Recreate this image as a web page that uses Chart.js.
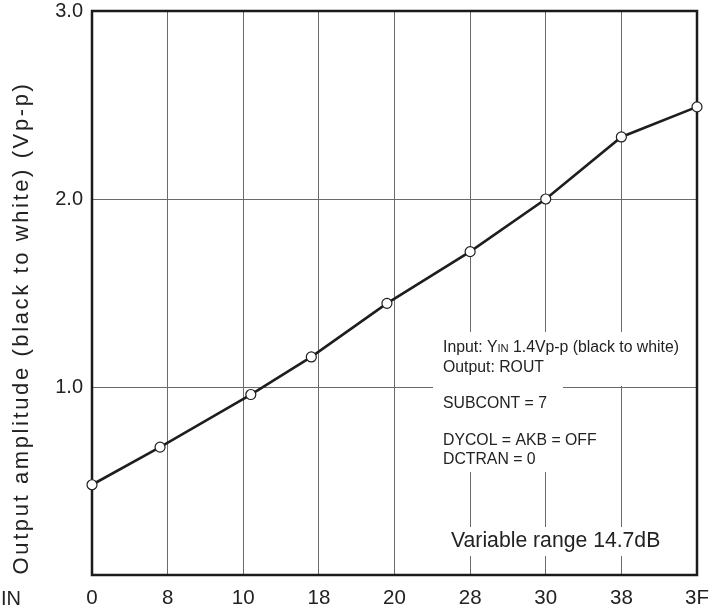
<!DOCTYPE html>
<html>
<head>
<meta charset="utf-8">
<script src="https://cdn.jsdelivr.net/npm/chart.js@4/dist/chart.umd.min.js"></script>
<style>
  html, body { margin: 0; padding: 0; background: #fff; }
  #wrap { width: 715px; height: 612px; position: relative; }
</style>
</head>
<body>
<div id="wrap"><canvas id="c" width="715" height="612"></canvas></div>
<script>
// Data
const xCodes = [0, 7.2, 16.8, 23.2, 31.2, 40, 48, 56, 64];
const amplitude = [0.48, 0.68, 0.96, 1.16, 1.445, 1.72, 2.0, 2.33, 2.49];
const xTickLabels = ['0', '8', '10', '18', '20', '28', '30', '38', '3F'];
const yTickValues = [1.0, 2.0, 3.0];
const yTitle = 'Output amplitude (black to white) (Vp-p)';
const xTitle = 'IN';
const noteLines = ['Output: ROUT', 'SUBCONT = 7', 'DYCOL = AKB = OFF', 'DCTRAN = 0'];
const rangeNote = 'Variable range 14.7dB';

const FONT = "'Liberation Sans', Arial, Helvetica, sans-serif";

const decor = {
  id: 'decor',
  beforeDatasetsDraw(chart) {
    const ctx = chart.ctx;
    const a = chart.chartArea;
    ctx.save();
    // white backgrounds behind notes (cover the grid lines)
    ctx.fillStyle = '#fff';
    ctx.fillRect(433, 332, 257, 54);
    ctx.fillRect(433, 386, 130, 86);
    ctx.fillRect(433, 421, 180, 51);
    ctx.fillRect(443, 527, 246, 29);
    // frame
    ctx.strokeStyle = '#1a1a1a';
    ctx.lineWidth = 2.5;
    ctx.strokeRect(a.left, a.top, a.right - a.left, a.bottom - a.top);
    ctx.restore();
  },
  afterDraw(chart) {
    const ctx = chart.ctx;
    ctx.save();
    ctx.fillStyle = '#222';
    ctx.textBaseline = 'alphabetic';
    ctx.textAlign = 'left';
    // notes
    ctx.font = '15.8px ' + FONT;
    let x = 443;
    const y0 = 352;
    let s = 'Input: Y';
    ctx.fillText(s, x, y0);
    x += ctx.measureText(s).width;
    ctx.font = '11.2px ' + FONT;
    s = 'IN';
    ctx.fillText(s, x, y0);
    x += ctx.measureText(s).width;
    ctx.font = '15.8px ' + FONT;
    ctx.fillText(' 1.4Vp-p (black to white)', x, y0);
    const ys = [371.5, 407.5, 445, 464];
    noteLines.forEach((t, i) => ctx.fillText(t, 443, ys[i]));
    ctx.font = '21.2px ' + FONT;
    ctx.fillText(rangeNote, 451, 547);
    // x axis name
    ctx.font = '20px ' + FONT;
    ctx.fillText(xTitle, 1, 605);
    // y axis title
    ctx.translate(28, 328);
    ctx.rotate(-Math.PI / 2);
    ctx.textAlign = 'center';
    ctx.font = '22px ' + FONT;
    if ('letterSpacing' in ctx) ctx.letterSpacing = '2.6px';
    ctx.fillText(yTitle, 0, 0);
    ctx.restore();
  }
};

new Chart(document.getElementById('c'), {
  type: 'line',
  data: {
    datasets: [{
      data: xCodes.map((v, i) => ({ x: v, y: amplitude[i] })),
      borderColor: '#1e1e1e',
      borderWidth: 2.6,
      pointRadius: 5,
      pointBackgroundColor: '#fff',
      pointBorderColor: '#1e1e1e',
      pointBorderWidth: 1.2,
      tension: 0,
      clip: false
    }]
  },
  options: {
    responsive: false,
    animation: false,
    devicePixelRatio: 1,
    layout: { padding: { top: 11, right: 18, left: 0, bottom: 0 } },
    plugins: { legend: { display: false }, tooltip: { enabled: false } },
    scales: {
      x: {
        type: 'linear',
        min: 0, max: 64,
        afterFit(scale) {
          scale.height = 37;
          scale.paddingLeft = 0; scale.paddingRight = 0;
        },
        afterBuildTicks(scale) {
          scale.ticks = xTickLabels.map((_, i) => ({ value: i * 8 }));
        },
        ticks: {
          autoSkip: false, maxRotation: 0, padding: 11,
          color: '#222',
          font: { family: FONT, size: 20.5 },
          callback: (v) => xTickLabels[Math.round(v / 8)]
        },
        grid: { color: '#6a6a6a', lineWidth: 1, drawTicks: false },
        border: { display: false }
      },
      y: {
        type: 'linear',
        min: 0, max: 3,
        afterFit(scale) {
          scale.width = 92;
          scale.paddingTop = 0; scale.paddingBottom = 0;
        },
        afterBuildTicks(scale) {
          scale.ticks = [0].concat(yTickValues).map(v => ({ value: v }));
        },
        ticks: {
          padding: 9,
          color: '#222',
          font: { family: FONT, size: 20 },
          callback: (v) => (v === 0 ? '' : v.toFixed(1))
        },
        grid: { color: '#6a6a6a', lineWidth: 1, drawTicks: false },
        border: { display: false }
      }
    }
  },
  plugins: [decor]
});
</script>
</body>
</html>
